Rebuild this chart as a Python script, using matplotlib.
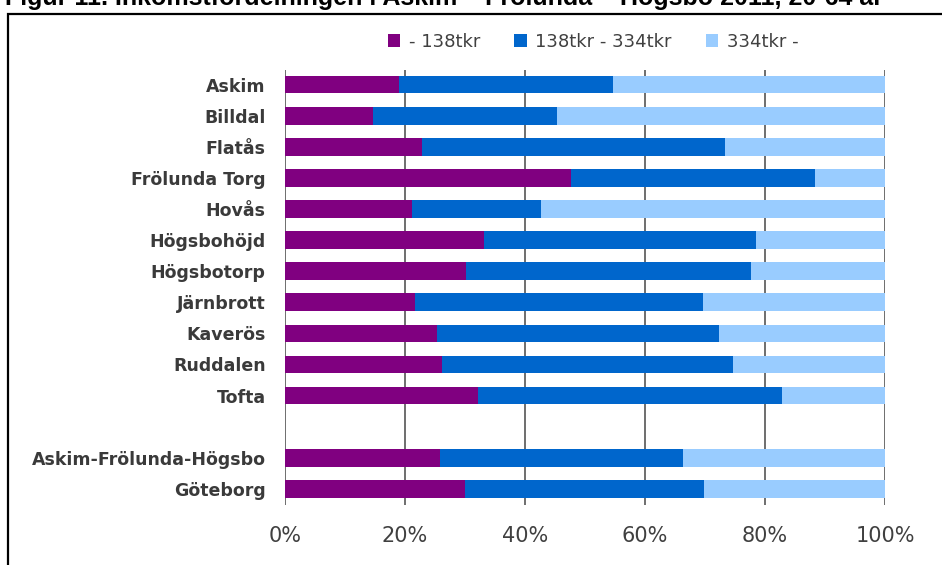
import numpy as np
import matplotlib.pyplot as plt
from matplotlib.patches import Rectangle

# ------------------------- data (andel i %) -------------------------
omraden = ['Askim', 'Billdal', 'Flatås', 'Frölunda Torg', 'Hovås', 'Högsbohöjd',
           'Högsbotorp', 'Järnbrott', 'Kaverös', 'Ruddalen', 'Tofta',
           '', 'Askim-Frölunda-Högsbo', 'Göteborg']
serier = ['- 138tkr', '138tkr - 334tkr', '334tkr -']
lag = [19.0, 14.7, 22.8, 47.6, 21.2, 33.1, 30.1, 21.6, 25.3, 26.1, 32.2, 0, 25.9, 30.0]
mellan = [35.6, 30.7, 50.6, 40.7, 21.5, 45.4, 47.5, 48.1, 47.1, 48.6, 50.7, 0, 40.5, 39.9]
hog = [45.4, 54.6, 26.6, 11.7, 57.3, 21.5, 22.4, 30.3, 27.6, 25.3, 17.1, 0, 33.6, 30.1]
xticks = [0, 20, 40, 60, 80, 100]
xticklabels = ['0%', '20%', '40%', '60%', '80%', '100%']
farger = ['#800080', '#0066CC', '#99CCFF']

W, H = 942, 565
fig = plt.figure(figsize=(W / 100, H / 100), dpi=100)
ax = fig.add_axes([285 / W, 1 - 505 / H, 600 / W, 435 / H])

y = np.arange(len(omraden))
lag = np.array(lag)
mellan = np.array(mellan)
hog = np.array(hog)
ax.barh(y, lag, height=0.57, color=farger[0], label=serier[0], zorder=3)
ax.barh(y, mellan, left=lag, height=0.57, color=farger[1], label=serier[1], zorder=3)
ax.barh(y, hog, left=lag + mellan, height=0.57, color=farger[2], label=serier[2], zorder=3)

ax.set_xlim(0, 100)
ax.set_ylim(13.52, -0.47)
ax.set_xticks(xticks)
ax.set_xticklabels(xticklabels, fontsize=15, color='#404040')
ax.set_yticks(y)
ax.set_yticklabels(omraden, fontsize=12.5, fontweight='bold', color='#3a3a3a')
ax.tick_params(axis='x', length=0, pad=15)
ax.tick_params(axis='y', length=0, pad=14)
ax.grid(axis='x', color='#555555', linewidth=1.2, zorder=0)
for s in ax.spines.values():
    s.set_visible(False)

leg = fig.legend(loc='center', bbox_to_anchor=(593 / W, 1 - 42 / H), ncol=3, frameon=False,
                 fontsize=13, handlelength=0.7, handleheight=0.7, handletextpad=0.45,
                 columnspacing=1.9, labelcolor='#404040')

# ram runt diagrammet
fig.patches.append(Rectangle((8 / W, -0.1), 1.2, 1 - 14 / H + 0.1, transform=fig.transFigure,
                             fill=False, edgecolor='black', linewidth=1.6))

# rubriken är avskuren upptill i originalet
fig.text(5 / W, 1 - 5 / H, 'Figur 11. Inkomstfördelningen i Askim – Frölunda – Högsbo 2011, 20-64 år',
         fontsize=18, fontweight='bold', family='Liberation Sans', va='baseline', ha='left')

fig.savefig('out.png', dpi=100)
